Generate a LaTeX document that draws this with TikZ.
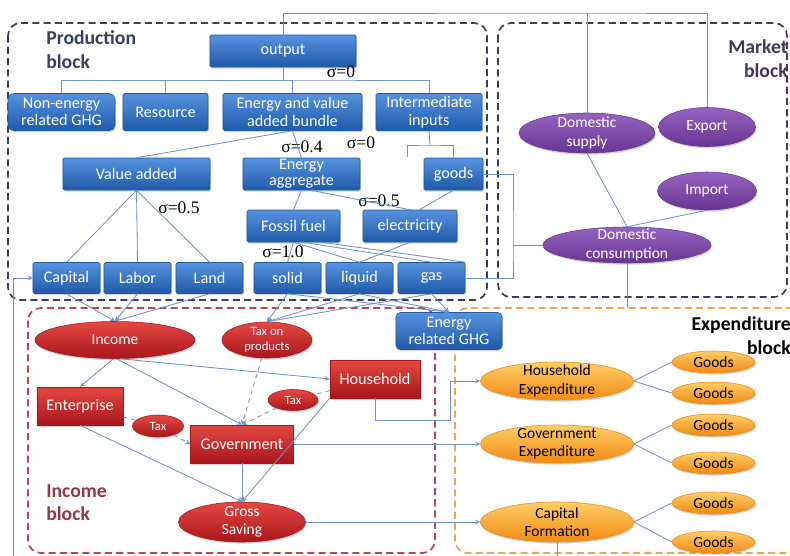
\documentclass[tikz,border=0pt]{standalone}
\usepackage{fontspec}
\setmainfont{Carlito}
\newfontfamily\sigfont{Liberation Serif}
\usepackage{tikz}
\usetikzlibrary{arrows,shapes,calc,positioning,shadows}
\definecolor{btop}{RGB}{86,146,222}
\definecolor{bbot}{RGB}{30,90,168}
\definecolor{rtop}{RGB}{228,72,66}
\definecolor{rbot}{RGB}{168,22,28}
\definecolor{ptop}{RGB}{150,100,192}
\definecolor{pbot}{RGB}{104,54,146}
\definecolor{otop}{RGB}{255,206,102}
\definecolor{obot}{RGB}{240,138,20}
\definecolor{lnk}{RGB}{112,146,196}
\definecolor{prodc}{RGB}{55,65,95}
\definecolor{mktc}{RGB}{70,55,90}
\definecolor{incc}{RGB}{185,70,80}
\definecolor{expc}{RGB}{240,165,80}
\tikzstyle{shd}   =[drop shadow={shadow xshift=0.6pt,shadow yshift=-1.2pt,opacity=0.35}]
\tikzstyle{bbox}  =[rectangle, rounded corners=1pt, top color=btop, bottom color=bbot,
                    draw=bbot, text=white, align=center, inner sep=0pt, shd,
                    font=\fontsize{11.5}{12.5}\selectfont]
\tikzstyle{rbox}  =[rectangle, top color=rtop, bottom color=rbot, draw=rbot,
                    text=white, align=center, inner sep=0pt, shd,
                    font=\fontsize{11.5}{12.5}\selectfont]
\tikzstyle{oval}  =[ellipse, inner xsep=-8pt, inner ysep=-6pt, align=center, shd,
                    font=\fontsize{11}{13}\selectfont]
\tikzstyle{rell}  =[oval, top color=rtop, bottom color=rbot, draw=rbot, text=white]
\tikzstyle{pell}  =[oval, top color=ptop, bottom color=pbot, draw=pbot, text=white]
\tikzstyle{oell}  =[oval, top color=otop, bottom color=obot, draw=obot, text=black]
\tikzstyle{blk}   =[dashed, dash pattern=on 5pt off 3pt, line width=1.2pt,
                    rounded corners=9pt]
\tikzstyle{ttl}   =[inner sep=0pt, font=\bfseries\fontsize{14}{17}\selectfont]
\tikzstyle{sig}   =[inner sep=0pt, font=\sigfont\fontsize{12.5}{13}\selectfont]
\tikzstyle{edge}  =[draw=lnk, line width=0.6pt]
\tikzstyle{arr}   =[edge, ->, >=stealth]
\begin{document}
\begin{tikzpicture}[x=0.025cm, y=-0.025cm]
\useasboundingbox (0,0) rectangle (790,555);
\draw[blk, draw=prodc] (8,23) rectangle (487,300);
\draw[blk, draw=mktc] (498,23) rectangle (787,297);
\draw[blk, draw=incc] (28,308) rectangle (435,553);
\draw[blk, draw=expc] (455,308) rectangle (810,553);
\node (ptl) [ttl, text=prodc, anchor=north west, align=left] at (46,30) {Production\\block};
\node (mtl) [ttl, text=mktc, anchor=north east, align=right] at (788,39) {Market\\block};
\node (itl) [ttl, text=incc!80!black, anchor=north west, align=left] at (46,484) {Income\\block};
\node (etl) [ttl, text=black, anchor=north east, align=right] at (791,316) {Expenditure\\block};
% production block
\node (out) [bbox, minimum width=3.65cm, minimum height=0.8cm] at (283,51) {output};
\node (neg) [bbox, rounded corners=4pt, minimum width=2.675cm, minimum height=0.925cm] at (61.5,112) {Non-energy\\related GHG};
\node (res) [bbox, minimum width=2.125cm, minimum height=0.925cm] at (165.5,112) {Resource};
\node (evb) [bbox, minimum width=3.475cm, minimum height=0.925cm] at (292.5,112) {Energy and value\\added bundle};
\node (int) [bbox, minimum width=2.65cm, minimum height=0.925cm] at (429,112) {Intermediate\\inputs};
\node (va) [bbox, minimum width=3.675cm, minimum height=0.8cm] at (136.5,174) {Value added};
\node (ea) [bbox, minimum width=2.925cm, minimum height=0.8cm, font=\fontsize{11.5}{11.5}\selectfont] at (301.5,174) {Energy\\aggregate};
\node (gd) [bbox, minimum width=1.475cm, minimum height=0.8cm] at (453.5,174) {goods};
\node (ff) [bbox, minimum width=2.325cm, minimum height=0.8cm] at (293.5,226) {Fossil fuel};
\node (el) [bbox, minimum width=2.35cm, minimum height=0.8cm] at (410,226) {electricity};
\node (cap) [bbox, minimum width=1.675cm, minimum height=0.775cm] at (66.5,278) {Capital};
\node (lab) [bbox, minimum width=1.675cm, minimum height=0.775cm] at (137.5,278) {Labor};
\node (lnd) [bbox, minimum width=1.675cm, minimum height=0.775cm] at (209.5,278) {Land};
\node (sol) [bbox, minimum width=1.675cm, minimum height=0.775cm] at (287.5,278) {solid};
\node (liq) [bbox, minimum width=1.675cm, minimum height=0.775cm] at (359.5,278) {liquid};
\node (gas) [bbox, minimum width=1.675cm, minimum height=0.775cm] at (431.5,278) {gas};
\node (s1) [sig] at (341,72) {σ=0};
\node (s2) [sig] at (302,147) {σ=0.4};
\node (s3) [sig] at (361,143) {σ=0};
\node (s4) [sig] at (179,208) {σ=0.5};
\node (s5) [sig] at (379,201) {σ=0.5};
\node (s6) [sig] at (283,252) {σ=1.0};
\coordinate (ob) at (283,80); \coordinate (ib) at (430,145); \coordinate (il) at (407,157);
\coordinate (tb) at (587,13); \coordinate (gb) at (513,245); \coordinate (eb) at (627,308);
\draw[edge] (out.south) -- (ob); \draw[edge] (neg.north) |- (ob) -| (int.north);
\draw[edge] (res.north) |- (ob); \draw[edge] (evb.north) |- (ob);
\draw[edge] (int.south) -- (ib); \draw[edge] (il) |- (ib) -| (gd.north);
\draw[edge] (evb.south) -- (va.north); \draw[edge] (evb.south) -- (ea.north);
\draw[edge] (va.south) -- (cap.north); \draw[edge] (va.south) -- (lab.north); \draw[edge] (va.south) -- (lnd.north);
\draw[edge] (ea.south) -- (ff.north); \draw[edge] (ea.-60) -- (el.north); \draw[edge] (gd.south) -- (el.60);
\draw[edge] (ff.south) -- (sol.north); \draw[edge] (ff.south) -- (liq.north); \draw[edge] (ff.-30) -- (gas.north east);
\draw[edge] (ff.-60) -- (gas.north); \draw[edge] (el.south) -- (liq.north);
% market block
\node (dsup) [pell, minimum width=3.4cm, minimum height=1cm] at (587,133) {Domestic\\supply};
\node (exp) [pell, minimum width=2.425cm, minimum height=0.975cm] at (707,127) {Export};
\node (imp) [pell, minimum width=2.475cm, minimum height=0.95cm] at (707,191) {Import};
\node (dcon) [pell, minimum width=4.2cm, minimum height=0.9cm] at (627,245) {Domestic\\consumption};
\draw[edge] (out.north) |- (tb) -| (exp.north); \draw[edge] (tb) -- (dsup.north);
\draw[edge] (gd.east) -| (gb) |- (gas.east); \draw[edge] (gb) -- (dcon.west);
\draw[edge] (dsup.south) -- (dcon.north); \draw[edge] (imp.south) -- (dcon.north);
\draw[edge] (dcon.south) -- (eb);
% income block
\node (inc) [rell, minimum width=4cm, minimum height=0.925cm] at (115,340) {Income};
\node (tp) [rell, minimum width=2.25cm, minimum height=0.9cm, font=\fontsize{9}{10.5}\selectfont] at (267,340) {Tax on\\products};
\node (hh) [rbox, minimum width=2.25cm, minimum height=0.95cm] at (375,379) {Household};
\node (ent) [rbox, minimum width=2.15cm, minimum height=0.95cm] at (80,406) {Enterprise};
\node (tx1) [rell, minimum width=1.25cm, minimum height=0.525cm, font=\fontsize{9}{10}\selectfont] at (293,400) {Tax};
\node (tx2) [rell, minimum width=1.275cm, minimum height=0.55cm, font=\fontsize{9}{10}\selectfont] at (158,426) {Tax};
\node (gov) [rbox, minimum width=2.575cm, minimum height=0.95cm] at (242,444) {Government};
\node (gs) [rell, minimum width=3.175cm, minimum height=1cm] at (242,522) {Gross\\Saving};
\node (ghg) [bbox, rounded corners=3pt, minimum width=2.65cm, minimum height=0.925cm] at (449,331) {Energy\\related GHG};
\draw[arr] (cap.south) -- (inc.north); \draw[arr] (lab.south) -- (inc.north); \draw[arr] (lnd.south) -- (inc.north);
\draw[arr] (sol.south) -- (tp.north); \draw[arr] (liq.south) -- (tp.north); \draw[arr] (gas.south) -- (tp.north);
\draw[arr] (sol.south) -- (ghg.north); \draw[arr] (liq.south) -- (ghg.north); \draw[arr] (gas.south) -- (ghg.north);
\draw[arr] (inc.-95) -- (ent.north); \draw[arr] (inc.-85) -- (gov.north); \draw[arr] (inc.-75) -- (hh.west);
\draw[edge, dashed] (ent) -- (tx2); \draw[arr, dashed] (tx2) -- (gov.west);
\draw[edge, dashed] (hh) -- (tx1); \draw[arr, dashed] (tx1) -- (gov.north);
\draw[arr, dashed] (tp) -- (gov.north);
\draw[arr] (ent.south) -- (gs.north); \draw[arr] (gov.south) -- (gs.north); \draw[arr] (hh.south west) -- (gs.north);
% expenditure block
\node (hx) [oell, minimum width=3.825cm, minimum height=0.95cm] at (557,381) {Household\\Expenditure};
\node (gx) [oell, minimum width=3.825cm, minimum height=0.95cm] at (557,444) {Government\\Expenditure};
\node (cf) [oell, minimum width=3.825cm, minimum height=1cm] at (557,522) {Capital\\Formation};
\foreach \n/\y in {1/362,2/393,3/425,4/463,5/503,6/542}
  \node (g\n) [oell, minimum width=2.075cm, minimum height=0.55cm] at (713.5,\y) {Goods};
\coordinate (h1) at (450,420); \coordinate (c1) at (13,575);
\draw[arr] (hh.south) |- (h1) |- (hx.west);
\draw[arr] (gov.east) -- (gx.west); \draw[arr] (gs.east) -- (cf.west);
\draw[arr] (cf.south) |- (c1) |- (cap.west);
\draw[edge] (hx.east) -- (g1.west); \draw[edge] (hx.east) -- (g2.west);
\draw[edge] (gx.east) -- (g3.west); \draw[edge] (gx.east) -- (g4.west);
\draw[edge] (cf.east) -- (g5.west); \draw[edge] (cf.east) -- (g6.west);
\end{tikzpicture}
\end{document}
